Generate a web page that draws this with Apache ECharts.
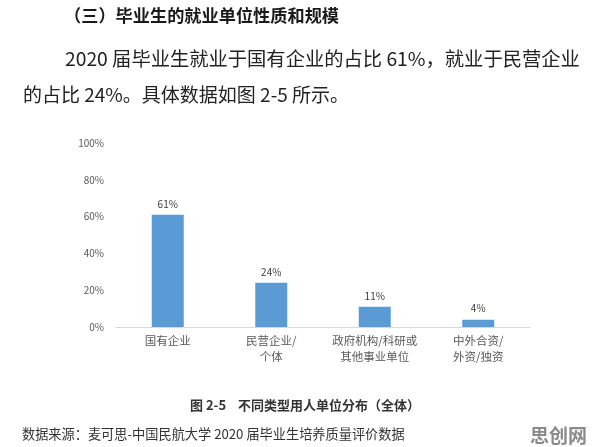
<!DOCTYPE html>
<html>
<head>
<meta charset="utf-8">
<script src="https://cdn.jsdelivr.net/npm/echarts@6/dist/echarts.min.js"></script>
<style>
html,body{margin:0;padding:0;background:#fff;}
#c{width:596px;height:447px;}
</style>
</head>
<body>
<div id="c"></div>
<script>
const categories = ['国有企业', '民营企业/\n个体', '政府机构/科研或\n其他事业单位', '中外合资/\n外资/独资'];
const values = [61, 24, 11, 4];
const yTicks = [0, 20, 40, 60, 80, 100];

const headingText = '（三）毕业生的就业单位性质和规模';
const paraLine1 = '2020 届毕业生就业于国有企业的占比 61%，就业于民营企业';
const paraLine2 = '的占比 24%。具体数据如图 2-5 所示。';
const captionText = '图 2-5    不同类型用人单位分布（全体）';
const sourceText = '数据来源：麦可思-中国民航大学 2020 届毕业生培养质量评价数据';
const watermarkText = '思创网';

const FONT = '"Noto Sans CJK SC", "Noto Sans", sans-serif';
const chart = echarts.init(document.getElementById('c'));
chart.setOption({
  backgroundColor: '#fff',
  animation: false,
  grid: {left: 116, right: 66, top: 143, bottom: 120},
  xAxis: {
    type: 'category',
    data: categories,
    axisLine: {lineStyle: {color: '#d9d9d9', width: 1}},
    axisTick: {show: false},
    axisLabel: {color: '#595959', fontSize: 11.5, fontFamily: FONT, lineHeight: 16, margin: 6, interval: 0}
  },
  yAxis: {
    type: 'value',
    min: yTicks[0],
    max: yTicks[yTicks.length - 1],
    interval: 20,
    axisLine: {show: false},
    axisTick: {show: false},
    splitLine: {show: false},
    axisLabel: {color: '#595959', fontSize: 10, fontFamily: FONT, margin: 12, formatter: '{value}%'}
  },
  series: [{
    type: 'bar',
    data: values,
    barWidth: 32,
    itemStyle: {color: '#5b9bd5'},
    label: {show: true, position: 'top', distance: 6, formatter: '{c}%', color: '#404040', fontSize: 10, fontFamily: FONT}
  }],
  graphic: [
    {type: 'text', left: 64, top: 7, style: {text: headingText, font: 'bold 17.2px ' + FONT, fill: '#1a1a1a'}},
    {type: 'text', left: 65, top: 49, style: {text: paraLine1, font: '19.3px ' + FONT, fill: '#222'}},
    {type: 'text', left: 23, top: 85, style: {text: paraLine2, font: '19px ' + FONT, fill: '#222'}},
    {type: 'text', left: 190, top: 399, style: {text: captionText, font: 'bold 13px ' + FONT, fill: '#333'}},
    {type: 'text', left: 22, top: 427, style: {text: sourceText, font: '13.2px ' + FONT, fill: '#333'}},
    {type: 'text', left: 530, top: 426, style: {text: watermarkText, font: 'bold 19px ' + FONT, fill: '#8a8a8a'}}
  ]
});
</script>
</body>
</html>
